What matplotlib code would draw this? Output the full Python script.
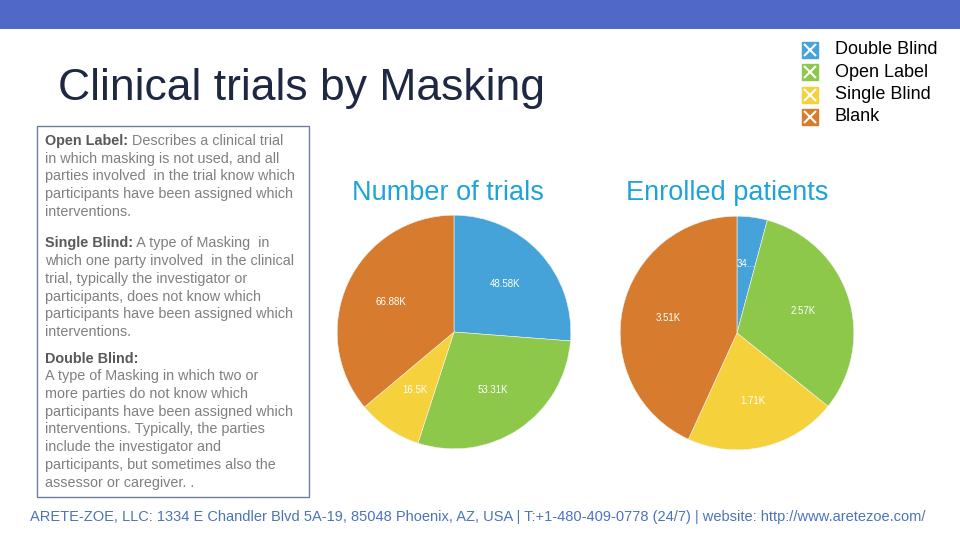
import matplotlib.pyplot as plt
from matplotlib.patches import Rectangle

plt.rcParams['font.family'] = ['Liberation Sans', 'DejaVu Sans']

# Data
categories = ['Double Blind', 'Open Label', 'Single Blind', 'Blank']
colors = ['#45A3DA', '#8DC84B', '#F5D13B', '#D77B2F']

trials = [48.58, 53.31, 16.5, 66.88]          # thousands
trial_labels = ['48.58K', '53.31K', '16.5K', '66.88K']

patients = [0.34, 2.57, 1.71, 3.51]           # thousands
patient_labels = ['34...', '2.57K', '1.71K', '3.51K']

# Description box text: (bold heading, following lines)
descriptions = [
    ('Open Label:', [' Describes a clinical trial',
                     'in which masking is not used, and all',
                     'parties involved  in the trial know which',
                     'participants have been assigned which',
                     'interventions.']),
    ('Single Blind:', [' A type of Masking  in',
                       'which one party involved  in the clinical',
                       'trial, typically the investigator or',
                       'participants, does not know which',
                       'participants have been assigned which',
                       'interventions.']),
    ('Double Blind:', ['',
                       'A type of Masking in which two or',
                       'more parties do not know which',
                       'participants have been assigned which',
                       'interventions. Typically, the parties',
                       'include the investigator and',
                       'participants, but sometimes also the',
                       'assessor or caregiver. .']),
]

fig = plt.figure(figsize=(9.6, 5.4), dpi=100)

# background axes in pixel coordinates for the slide decoration
bg = fig.add_axes([0, 0, 1, 1])
bg.set_xlim(0, 960)
bg.set_ylim(540, 0)
bg.axis('off')

bg.add_patch(Rectangle((0, 0), 960, 29, color='#5068C8', lw=0))
bg.text(58, 100, 'Clinical trials by Masking', fontsize=32, color='#1F2843',
        va='baseline', ha='left')

# description box
bg.add_patch(Rectangle((37, 126), 272, 371, fill=False, ec='#6F7F99', lw=1))

fig.canvas.draw()
renderer = fig.canvas.get_renderer()

line_h = 17.7
y = 145
for heading, lines in descriptions:
    t = bg.text(45, y, heading, fontsize=10.4, fontweight='bold', color='#595959',
                va='baseline', ha='left')
    bb = t.get_window_extent(renderer=renderer)
    x_end = bb.x1  # pixels, same as data x here
    first = lines[0]
    if first:
        bg.text(x_end, y, first, fontsize=10.4, color='#808080', va='baseline', ha='left')
    y += line_h
    for ln in lines[1:]:
        bg.text(45, y, ln, fontsize=10.4, color='#808080', va='baseline', ha='left')
        y += line_h
    y += 9 if heading == 'Single Blind:' else 14

# legend
for i, (cat, col) in enumerate(zip(categories, colors)):
    ly = 50 + i * 22.3
    bg.plot(810, ly, marker='s', ms=12, color=col, mec=col)
    bg.plot(810, ly, marker='x', ms=9, mew=1.5, color='white')
    bg.text(835, ly, cat, fontsize=13, color='black', va='center', ha='left')

# footer
bg.text(30, 521, 'ARETE-ZOE, LLC: 1334 E Chandler Blvd 5A-19, 85048 Phoenix, AZ, USA | '
        'T:+1-480-409-0778 (24/7) | website: http://www.aretezoe.com/',
        fontsize=10.55, color='#4C74B8', va='baseline', ha='left')


def draw_pie(rect, values, labels, title, title_x):
    ax = fig.add_axes(rect)
    ax.pie(values, colors=colors, startangle=90, counterclock=False,
           labels=labels, labeldistance=0.6, radius=1,
           wedgeprops=dict(linewidth=0.4, edgecolor='#F4F4F4'),
           textprops=dict(color='white', fontsize=7, ha='center', va='center'))
    ax.set_xlim(-1.01, 1.01)
    ax.set_ylim(-1.01, 1.01)
    ax.set_aspect('equal')
    bg.text(title_x, 193, title, fontsize=19.5, color='#1EA3D9', ha='center', va='center')
    return ax


draw_pie([336 / 960, 1 - 450 / 540, 236 / 960, 236 / 540], trials, trial_labels,
         'Number of trials', 448)
draw_pie([619 / 960, 1 - 451 / 540, 236 / 960, 236 / 540], patients, patient_labels,
         'Enrolled patients', 727)

fig.savefig('out.png', dpi=100)
